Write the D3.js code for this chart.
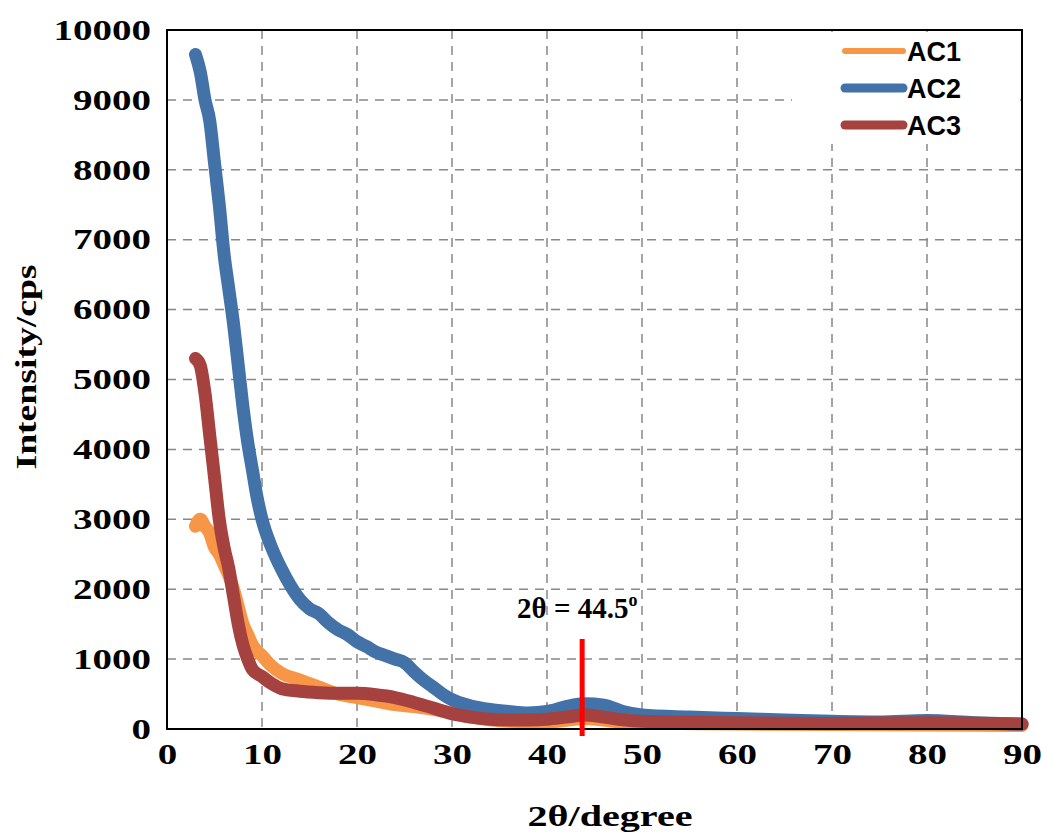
<!DOCTYPE html>
<html><head><meta charset="utf-8">
<script src="https://cdn.jsdelivr.net/npm/d3@7"></script>
<style>body{margin:0;background:#fff}</style>
</head><body>
<svg id="chart" width="1042" height="834"></svg>
<script>
var xTicks = [0,10,20,30,40,50,60,70,80,90];
var yTicks = [0,1000,2000,3000,4000,5000,6000,7000,8000,9000,10000];

var ac1X = [3,3.5,4,4.5,5,5.5,6,6.5,7,7.5,8,8.5,9,10,11,12,14,16,18,20,22,24,26,28,30,32,34,36,40,44,48,60,75,90];
var ac1Y = [2900,3000,2900,2800,2600,2500,2350,2200,2000,1750,1500,1350,1200,1050,900,800,700,600,500,450,400,350,320,280,230,170,130,110,100,150,100,70,60,50];

var ac2X = [3,3.5,4,4.5,5,5.5,6,6.5,7,7.5,8,8.5,9,9.5,10,11,12,13,14,15,16,17,18,19,20,21,22,23,24,25,26,27,28,29,30,32,34,36,38,40,42,44,46,48,50,55,60,65,70,75,80,85,90];
var ac2Y = [9650,9400,9000,8700,8100,7500,6800,6300,5800,5200,4600,4100,3700,3300,3000,2600,2300,2050,1850,1720,1650,1520,1420,1350,1250,1180,1100,1050,1000,950,820,700,600,500,420,330,280,250,230,250,320,360,340,250,200,170,150,130,110,100,120,90,70];

var ac3X = [3,3.5,4,4.5,5,5.5,6,6.5,7,7.5,8,8.5,9,10,11,12,14,16,18,20,22,24,26,28,30,32,34,36,38,40,42,44,46,48,50,60,70,80,90];
var ac3Y = [5300,5200,4800,4200,3600,3000,2600,2300,1900,1500,1200,1000,850,750,650,580,540,520,510,510,490,450,380,300,220,170,140,130,130,140,170,200,170,130,110,90,80,90,70];

var series = [
  {name:'AC1', color:'#f79646', x:ac1X, y:ac1Y},
  {name:'AC2', color:'#4372a8', x:ac2X, y:ac2Y},
  {name:'AC3', color:'#a5413e', x:ac3X, y:ac3Y}
];

var svg = d3.select('#chart');
var L = 167, R = 1022, T = 30, B = 729;
var x = d3.scaleLinear().domain([0,90]).range([L,R]);
var y = d3.scaleLinear().domain([0,10000]).range([B,T]);

// grid
svg.append('g').selectAll('line').data(xTicks.slice(1,-1)).join('line')
  .attr('x1', d => x(d)).attr('x2', d => x(d)).attr('y1', T).attr('y2', B)
  .attr('stroke', '#888').attr('stroke-width', 1.5).attr('stroke-dasharray', '9,7');
svg.append('g').selectAll('line').data(yTicks.slice(1,-1)).join('line')
  .attr('x1', L).attr('x2', R).attr('y1', d => y(d)).attr('y2', d => y(d))
  .attr('stroke', '#888').attr('stroke-width', 1.5).attr('stroke-dasharray', '9,7');

// legend background
svg.append('rect').attr('x', 792).attr('y', T + 2).attr('width', R - 794).attr('height', 112).attr('fill', '#fff');

var line = d3.line().x(d => x(d[0])).y(d => y(d[1])).curve(d3.curveMonotoneX);
series.forEach(function(s) {
  svg.append('path').datum(d3.zip(s.x, s.y))
    .attr('d', line).attr('fill', 'none').attr('stroke', s.color)
    .attr('stroke-width', 13).attr('stroke-linecap', 'round').attr('stroke-linejoin', 'round');
});

// frame
svg.append('rect').attr('x', L).attr('y', T).attr('width', R - L).attr('height', B - T)
  .attr('fill', 'none').attr('stroke', '#000').attr('stroke-width', 2);

var serif = 'Liberation Serif, Times New Roman, serif';
var xAxis = svg.append('g').attr('transform', 'translate(0,' + B + ')')
  .call(d3.axisBottom(x).tickValues(xTicks).tickSize(0).tickPadding(14));
var yAxis = svg.append('g').attr('transform', 'translate(' + (L - 2) + ',0)')
  .call(d3.axisLeft(y).tickValues(yTicks).tickSize(0).tickPadding(14).tickFormat(d3.format('d')));
[xAxis, yAxis].forEach(function(a) {
  a.select('.domain').remove();
  a.selectAll('text').attr('font-family', serif)
    .attr('font-weight', 'bold').attr('font-size', 29).attr('fill', '#000')
    .attr('textLength', d => String(d).length * 19.5).attr('lengthAdjust', 'spacingAndGlyphs');
});

svg.append('text').attr('x', 610).attr('y', 826).attr('text-anchor', 'middle')
  .attr('font-family', serif).attr('font-weight', 'bold').attr('font-size', 29)
  .attr('textLength', 165).attr('lengthAdjust', 'spacingAndGlyphs')
  .text('2θ/degree');
svg.append('text').attr('transform', 'translate(36,367) rotate(-90)')
  .attr('text-anchor', 'middle')
  .attr('font-family', serif).attr('font-weight', 'bold').attr('font-size', 29)
  .attr('textLength', 205).attr('lengthAdjust', 'spacingAndGlyphs')
  .text('Intensity/cps');

// marker
svg.append('line').attr('x1', x(43.7)).attr('x2', x(43.7)).attr('y1', 639).attr('y2', 736)
  .attr('stroke', '#ff0000').attr('stroke-width', 5);
var lab = svg.append('text').attr('x', 517).attr('y', 618)
  .attr('font-family', serif).attr('font-weight', 'bold').attr('font-size', 29);
lab.append('tspan').text('2θ = 44.5');
lab.append('tspan').attr('dy', -12).attr('font-size', 18).text('o');

// legend
var lg = svg.append('g').selectAll('g').data(series).join('g')
  .attr('transform', (d, i) => 'translate(845,' + (51 + i * 37) + ')');
lg.append('line').attr('x1', 0).attr('x2', 58).attr('stroke', d => d.color)
  .attr('stroke-width', (d, i) => i == 0 ? 6 : 9).attr('stroke-linecap', 'round');
lg.append('text').attr('x', 62).attr('y', 10).attr('font-family', 'Liberation Sans, Arial, sans-serif')
  .attr('font-weight', 'bold').attr('font-size', 27).text(d => d.name);
</script>
</body></html>
